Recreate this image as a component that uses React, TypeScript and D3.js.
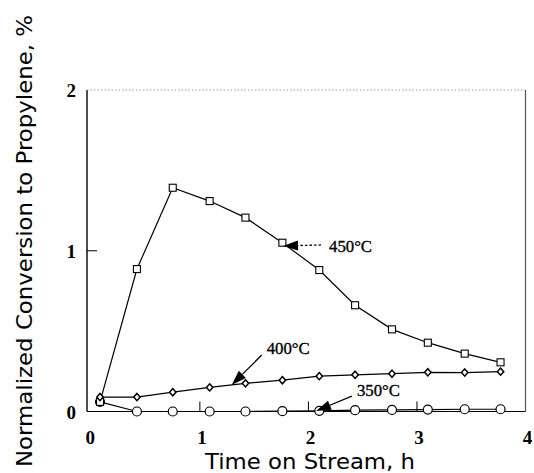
import React from "react";
import * as d3 from "d3";

const WIDTH = 534;
const HEIGHT = 473;

// time on stream, h (same sampling for the three runs)
const TIMES = [0.08, 0.42, 0.75, 1.09, 1.42, 1.76, 2.1, 2.43, 2.77, 3.1, 3.44, 3.77];
const CONV_450 = [0.06, 0.886, 1.392, 1.309, 1.206, 1.05, 0.88, 0.661, 0.511, 0.428, 0.36, 0.306];
const CONV_400 = [0.09, 0.09, 0.12, 0.15, 0.175, 0.195, 0.22, 0.228, 0.235, 0.244, 0.242, 0.248];
const CONV_350 = [0.06, 0, 0, 0, 0, 0.002, 0.004, 0.008, 0.01, 0.012, 0.014, 0.014];

const X_TICKS = [0, 1, 2, 3, 4];
const Y_TICKS = [0, 1, 2];

// annotation: label position and arrow (from -> tip), in data units
const LABELS = [
  { text: "450°C", t: 2.19, v: 0.992, from: [2.116, 1.036], tip: [1.766, 1.03], dashed: true },
  { text: "400°C", t: 1.616, v: 0.358, from: [1.57, 0.351], tip: [1.293, 0.165], dashed: false },
  { text: "350°C", t: 2.447, v: 0.096, from: [2.4, 0.096], tip: [2.07, 0.003], dashed: false },
];

const xScale = d3.scaleLinear().domain([-0.04, 4]).range([87, 525.5]);
const yScale = d3.scaleLinear().domain([0, 2]).range([411.5, 90]);

const line = d3
  .line<[number, number]>()
  .x((d) => xScale(d[0]))
  .y((d) => yScale(d[1]));

const pairs = (vals: number[]) => TIMES.map((t, i) => [t, vals[i]] as [number, number]);

const Arrow = ({ from, tip, dashed }: { from: number[]; tip: number[]; dashed: boolean }) => {
  const x1 = xScale(from[0]);
  const y1 = yScale(from[1]);
  const x2 = xScale(tip[0]);
  const y2 = yScale(tip[1]);
  const ang = Math.atan2(y2 - y1, x2 - x1);
  const len = 15;
  const half = 5;
  const bx = x2 - len * Math.cos(ang);
  const by = y2 - len * Math.sin(ang);
  const px = -Math.sin(ang) * half;
  const py = Math.cos(ang) * half;
  return (
    <g>
      <line
        x1={x1}
        y1={y1}
        x2={bx}
        y2={by}
        stroke="#000"
        strokeWidth={1.3}
        strokeDasharray={dashed ? "2.5 2" : undefined}
      />
      <path d={`M${x2},${y2}L${bx + px},${by + py}L${bx - px},${by - py}Z`} fill="#000" />
    </g>
  );
};

export default function App() {
  const x0 = xScale(-0.04);
  const x4 = xScale(4);
  const y0 = yScale(0);
  const y2 = yScale(2);

  return (
    <svg
      width={WIDTH}
      height={HEIGHT}
      style={{ position: "absolute", left: 0, top: 0, background: "#fff" }}
    >
      <rect width={WIDTH} height={HEIGHT} fill="#fff" />

      {/* frame */}
      <line x1={x0} y1={y2} x2={x0} y2={y0} stroke="#000" strokeWidth={1.4} />
      <line x1={x0} y1={y0} x2={x4} y2={y0} stroke="#000" strokeWidth={1.2} />
      <line x1={x0} y1={y2} x2={x4} y2={y2} stroke="#999" strokeWidth={1} strokeDasharray="1.5 2" />
      <line x1={x4} y1={y2} x2={x4} y2={y0} stroke="#555" strokeWidth={1.2} />

      {/* ticks */}
      {X_TICKS.filter((t) => t > 0 && t < 4).map((t) => (
        <line key={`xt${t}`} x1={xScale(t)} x2={xScale(t)} y1={y0} y2={y0 - 10} stroke="#000" strokeWidth={1} />
      ))}
      {Y_TICKS.filter((v) => v > 0 && v < 2).map((v) => (
        <line key={`yt${v}`} x1={x0} x2={x0 + 10} y1={yScale(v)} y2={yScale(v)} stroke="#000" strokeWidth={1} />
      ))}

      {/* tick labels */}
      <g fontFamily="'Liberation Serif', 'Times New Roman', serif" fontWeight="bold" fontSize={19}>
        {X_TICKS.map((t) => (
          <text key={`xl${t}`} x={t === 0 ? xScale(t) - 1 : xScale(t) + 2} y={444} textAnchor="middle">
            {t}
          </text>
        ))}
        {Y_TICKS.map((v) => (
          <text key={`yl${v}`} x={76} y={yScale(v) + 7} textAnchor="end">
            {v}
          </text>
        ))}
      </g>

      {/* curves */}
      <g fill="none" stroke="#000" strokeWidth={1.2}>
        <path d={line(pairs(CONV_450)) as string} />
        <path d={line(pairs(CONV_400)) as string} />
        <path d={line(pairs(CONV_350)) as string} />
      </g>

      {/* markers */}
      {pairs(CONV_350).map(([t, v], i) => (
        <circle key={`c${i}`} cx={xScale(t)} cy={yScale(v)} r={4.5} fill="#fff" stroke="#000" strokeWidth={1.2} />
      ))}
      {pairs(CONV_450).map(([t, v], i) => (
        <rect
          key={`s${i}`}
          x={xScale(t) - 3.5}
          y={yScale(v) - 3.5}
          width={7}
          height={7}
          fill="#fff"
          stroke="#000"
          strokeWidth={1.1}
        />
      ))}
      {pairs(CONV_400).map(([t, v], i) => (
        <path
          key={`d${i}`}
          d="M0,-3.6L3.2,0L0,3.6L-3.2,0Z"
          transform={`translate(${xScale(t)},${yScale(v)})`}
          fill="#fff"
          stroke="#000"
          strokeWidth={1.5}
        />
      ))}

      {/* annotations */}
      {LABELS.map((l) => (
        <g key={l.text}>
          <Arrow from={l.from} tip={l.tip} dashed={l.dashed} />
          <text
            x={xScale(l.t)}
            y={yScale(l.v)}
            fontFamily="'Liberation Serif', 'Times New Roman', serif"
            fontSize={17}
            stroke="#000"
            strokeWidth={0.35}
            textLength={43}
            lengthAdjust="spacingAndGlyphs"
          >
            {l.text}
          </text>
        </g>
      ))}

      {/* axis titles */}
      <text
        x={310}
        y={469}
        textAnchor="middle"
        fontFamily="'DejaVu Sans', sans-serif"
        fontSize={21}
        textLength={210}
        lengthAdjust="spacingAndGlyphs"
      >
        Time on Stream, h
      </text>
      <text
        transform="translate(32,241) rotate(-90)"
        textAnchor="middle"
        fontFamily="'DejaVu Sans', sans-serif"
        fontSize={21}
        textLength={452}
        lengthAdjust="spacingAndGlyphs"
      >
        Normalized Conversion to Propylene, %
      </text>
    </svg>
  );
}
